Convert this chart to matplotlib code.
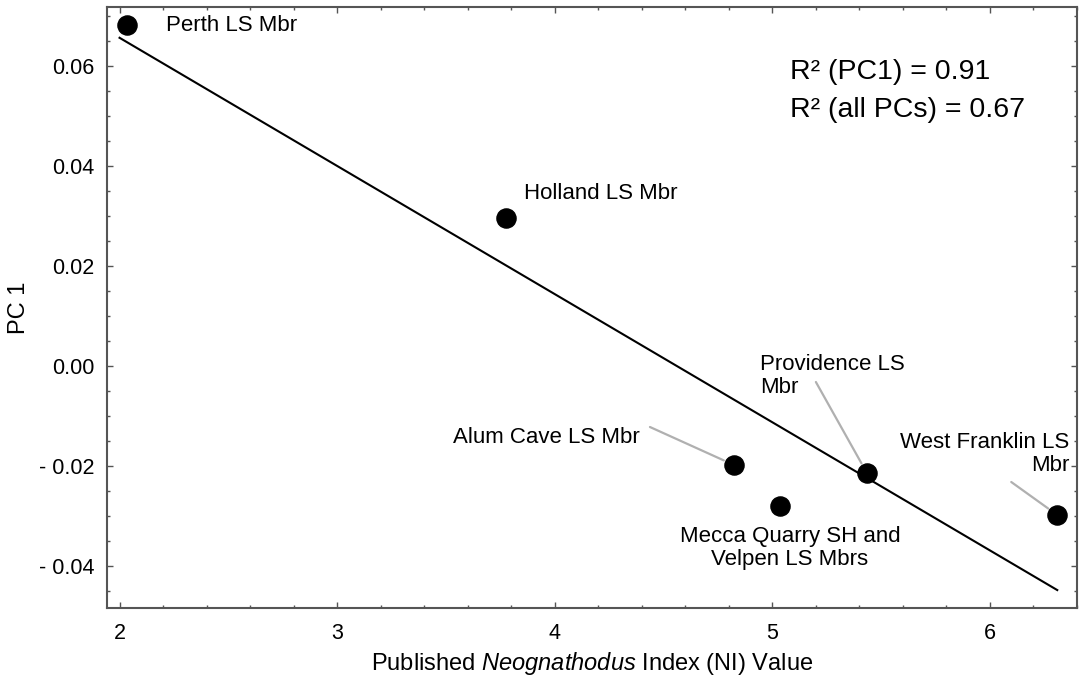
"""
PC1 vs Neognathodus Index (NI) - scatter with linear fit
"""
import numpy as np
import matplotlib
matplotlib.use('Agg')
import matplotlib.pyplot as plt
from matplotlib.ticker import MultipleLocator, FuncFormatter

plt.rcParams['font.family'] = ['Liberation Sans', 'DejaVu Sans']
plt.rcParams['mathtext.fontset'] = 'custom'
plt.rcParams['mathtext.rm'] = 'Liberation Sans'
plt.rcParams['mathtext.it'] = 'Liberation Sans:italic'

# Datos
miembros = ["Perth LS Mbr", "Holland LS Mbr", "Alum Cave LS Mbr",
            "Mecca Quarry SH and\nVelpen LS Mbrs", "Providence LS\nMbr",
            "West Franklin LS\nMbr"]
ni_valor = [2.035, 3.776, 4.824, 5.035, 5.435, 6.31]
pc1 = [0.0682, 0.0296, -0.0198, -0.0280, -0.0214, -0.0298]
r2_textos = ["R² (PC1) = 0.91", "R² (all PCs) = 0.67"]

# posición de etiquetas (offset en píxeles), alineación y línea guía
ETIQUETAS = [
    dict(off=(39, -1), ha='left', guia=None),
    dict(off=(18, 24), ha='left', guia=None),
    dict(off=(-94, 28), ha='right', guia=(-84, 38)),
    dict(off=(10, -42), ha='center', guia=None),
    dict(off=(-107, 97), ha='left', guia=(-51, 91)),
    dict(off=(12, 61), ha='right', guia=(-46, 33)),
]

fig = plt.figure(figsize=(10.79, 6.85), dpi=100)
ax = fig.add_axes([0.0989, 0.1124, 0.8991, 0.8774])

x = np.array(ni_valor)
y = np.array(pc1)

# recta de regresión
m, b = np.polyfit(x, y, 1)
xs = np.array([2.0, x.max()])
ax.plot(xs, m * xs + b, color='black', lw=1.5, zorder=2)

ax.scatter(x, y, s=190, color='black', zorder=3)

for i, (nombre, cfg) in enumerate(zip(miembros, ETIQUETAS)):
    ax.annotate(nombre, xy=(x[i], y[i]), xytext=cfg['off'], textcoords='offset pixels',
                ha=cfg['ha'], va='center', multialignment=cfg['ha'],
                fontsize=16, linespacing=1.1, zorder=4)
    if cfg['guia']:
        ax.annotate('', xy=(x[i], y[i]), xytext=cfg['guia'], textcoords='offset pixels',
                    arrowprops=dict(arrowstyle='-', color='#b0b0b0', lw=1.6,
                                    shrinkA=0, shrinkB=8), zorder=1)

ax.text(0.704, 0.892, r2_textos[0], transform=ax.transAxes, fontsize=20.5, va='center')
ax.text(0.704, 0.829, r2_textos[1], transform=ax.transAxes, fontsize=20.5, va='center')

ax.set_xlim(1.941, 6.40)
ax.set_ylim(-0.0484, 0.0718)
ax.xaxis.set_major_locator(MultipleLocator(1))
ax.xaxis.set_minor_locator(MultipleLocator(0.2))
ax.yaxis.set_major_locator(MultipleLocator(0.02))
ax.yaxis.set_minor_locator(MultipleLocator(0.005))

def fmt_y(v, pos):
    if abs(v) < 1e-9:
        return "0.00"
    return f"- {abs(v):.2f}" if v < 0 else f"{v:.2f}"

ax.yaxis.set_major_formatter(FuncFormatter(fmt_y))
ax.tick_params(which='both', direction='in', top=True, right=True, color='#555555', labelsize=15.5)
ax.tick_params(which='major', length=4, width=1)
ax.tick_params(which='minor', length=2.5, width=1)
ax.tick_params(axis='x', pad=11)
ax.tick_params(axis='y', pad=9)
for s in ax.spines.values():
    s.set_color('#555555')
    s.set_linewidth(1.5)

ax.set_xlabel(r"Published $\mathit{Neognathodus}$ Index (NI) Value", fontsize=17, labelpad=4)
ax.set_ylabel("PC 1", fontsize=17, labelpad=6)

fig.savefig("out.png", dpi=100)
